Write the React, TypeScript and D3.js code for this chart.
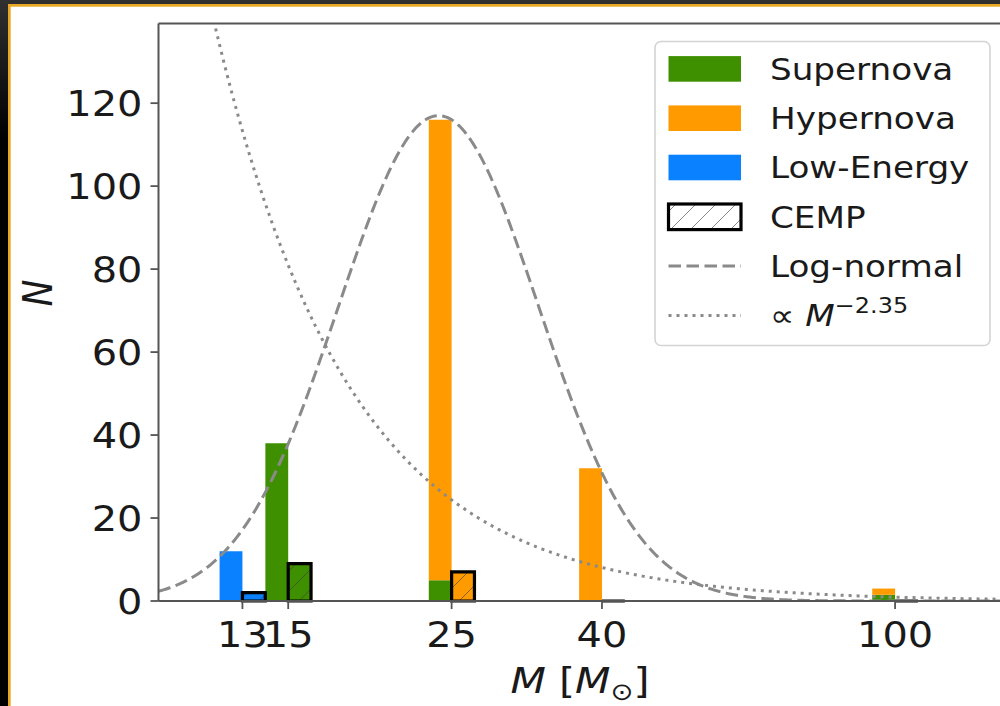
import React from 'react';
import * as d3 from 'd3';

// Progenitor masses (solar masses) and the number of stars per explosion type
const masses = [13, 15, 25, 40, 100];
const massTickLabels = ['13', '15', '25', '40', '100'];
const supernova = [0, 38, 5, 0, 1.5];
const hypernova = [0, 0, 111, 32, 1.5];
const lowEnergy = [12, 0, 0, 0, 0];
// Carbon-enhanced metal-poor subset, per explosion type
const cempSupernova = [0, 9, 0, 0, 0];
const cempHypernova = [0, 0, 7, 0, 0];
const cempLowEnergy = [2, 0, 0, 0, 0];

const yTicks = [0, 20, 40, 60, 80, 100, 120];

// Reference mass functions
const logNormalPeak = 117;
const logNormalMode = 24;
const logNormalSigma = 0.313;
const salpeterNorm = 47000;
const salpeterSlope = -2.35;

const W = 1000;
const H = 706;
const plot = { left: 158.5, right: 1005, top: 23.5, bottom: 601 };

const xScale = d3.scaleLog().domain([10, 141]).range([plot.left, plot.right]);
const yScale = d3.scaleLinear().domain([0, 139.2]).range([plot.bottom, plot.top]);

const BAR_STEP = 1.074;
const FONT = "'DejaVu Sans', sans-serif";
const SX = 1.14;

const COLORS = { sn: '#3e9000', hn: '#ff9a00', le: '#0a82ff' };
const CURVE_GREY = '#8a8a8a';

function rectPath(x0: number, x1: number, y0: number, y1: number) {
  return `M${x0},${y0}L${x1},${y0}L${x1},${y1}L${x0},${y1}Z`;
}

function stackSegments(values: number[][], i: number) {
  let acc = 0;
  return values.map((v) => {
    const seg = { lo: acc, hi: acc + v[i] };
    acc += v[i];
    return seg;
  });
}

function Txt(props: {
  x: number; y: number; size: number; anchor?: string; italic?: boolean; children: React.ReactNode;
}) {
  const { x, y, size, anchor = 'start', italic, children } = props;
  return (
    <text
      transform={`translate(${x},${y}) scale(${SX},1)`}
      fontFamily={FONT}
      fontSize={size}
      textAnchor={anchor}
      fontStyle={italic ? 'italic' : 'normal'}
      fill="#1a1a1a"
    >
      {children}
    </text>
  );
}

export default function App() {
  const y0 = yScale(0);
  const typeValues = [supernova, hypernova, lowEnergy];
  const cempValues = [cempSupernova, cempHypernova, cempLowEnergy];
  const fills = [COLORS.sn, COLORS.hn, COLORS.le];

  const samples = d3.range(0, 601).map((k) => {
    const lo = Math.log10(10), hi = Math.log10(141);
    return Math.pow(10, lo + ((hi - lo) * k) / 600);
  });
  const line = d3
    .line<[number, number]>()
    .x((d) => xScale(d[0]))
    .y((d) => yScale(d[1]));
  const logNormal = samples.map((m) => [
    m,
    logNormalPeak * Math.exp(-Math.pow(Math.log(m / logNormalMode), 2) / (2 * logNormalSigma * logNormalSigma)),
  ]) as [number, number][];
  const salpeter = samples.map((m) => [m, salpeterNorm * Math.pow(m, salpeterSlope)]) as [number, number][];

  // legend layout
  const lg = { x: 655, y: 41.5, w: 335, h: 304 };
  const rowY = (i: number) => 68.9 + i * 49.3;
  const hx0 = 668.5, hx1 = 741, textX = 770, legendSize = 30;
  const legendPatches = [
    { label: 'Supernova', fill: COLORS.sn },
    { label: 'Hypernova', fill: COLORS.hn },
    { label: 'Low-Energy', fill: COLORS.le },
  ];

  return (
    <svg
      width={W}
      height={H}
      style={{ position: 'fixed', left: 0, top: 0, display: 'block' }}
    >
      <defs>
        <linearGradient id="frameBg" x1="0" y1="0" x2="0" y2="140" gradientUnits="userSpaceOnUse">
          <stop offset="0" stopColor="#303030" />
          <stop offset="1" stopColor="#000000" />
        </linearGradient>
        <pattern id="hatch" patternUnits="userSpaceOnUse" width="20" height="20">
          <path d="M0,20L20,0M-5,5L5,-5M15,25L25,15" stroke="#3a3a3a" strokeOpacity="0.6" strokeWidth="1" />
        </pattern>
        <clipPath id="plotClip">
          <rect x={plot.left} y={plot.top} width={plot.right - plot.left} height={plot.bottom - plot.top} />
        </clipPath>
      </defs>

      {/* frame */}
      <rect x={0} y={0} width={W} height={H} fill="url(#frameBg)" />
      <rect x={8} y={4} width={W - 8} height={H - 4} fill="#e9a823" />
      <rect x={10.7} y={6.7} width={W - 10.7} height={H - 6.7} fill="#ffffff" />

      {/* explosion-type bars, left of each mass */}
      {masses.map((m, i) => {
        const xa = xScale(m / BAR_STEP), xb = xScale(m);
        const segs = stackSegments(typeValues, i);
        return (
          <g key={`t${m}`}>
            {segs.map((s, k) =>
              s.hi > s.lo ? (
                <path key={k} d={rectPath(xa, xb, yScale(s.lo), yScale(s.hi))} fill={fills[k]} />
              ) : null
            )}
          </g>
        );
      })}

      {/* CEMP bars, right of each mass */}
      {masses.map((m, i) => {
        const xa = xScale(m), xb = xScale(m * BAR_STEP);
        const segs = stackSegments(cempValues, i);
        const total = segs[segs.length - 1].hi;
        return (
          <g key={`c${m}`}>
            {segs.map((s, k) =>
              s.hi > s.lo ? (
                <path key={k} d={rectPath(xa, xb, yScale(s.lo), yScale(s.hi))} fill={fills[k]} />
              ) : null
            )}
            {total > 0 ? <path d={rectPath(xa, xb, y0, yScale(total))} fill="url(#hatch)" /> : null}
            <path d={rectPath(xa, xb, y0, yScale(total))} fill="none" stroke="#000" strokeWidth={3.2} />
          </g>
        );
      })}

      {/* mass functions */}
      <g clipPath="url(#plotClip)">
        <path d={line(logNormal) || ''} fill="none" stroke={CURVE_GREY} strokeWidth={3} strokeDasharray="12.5 5.5" />
        <path d={line(salpeter) || ''} fill="none" stroke={CURVE_GREY} strokeWidth={3} strokeDasharray="3 5" />
      </g>

      {/* spines */}
      <line x1={plot.left} x2={plot.left} y1={plot.top} y2={plot.bottom} stroke="#555" strokeWidth={2} />
      <line x1={plot.left} x2={W} y1={plot.bottom} y2={plot.bottom} stroke="#555" strokeWidth={2} />
      <line x1={plot.left} x2={W} y1={plot.top} y2={plot.top} stroke="#555" strokeWidth={2} />

      {/* y axis */}
      {yTicks.map((t) => (
        <g key={`y${t}`}>
          <line x1={plot.left - 8} x2={plot.left} y1={yScale(t)} y2={yScale(t)} stroke="#555" strokeWidth={1.8} />
          <Txt x={142.5} y={yScale(t) + 12.7} size={35} anchor="end">
            {t}
          </Txt>
        </g>
      ))}

      {/* x axis */}
      {masses.map((m, i) => (
        <g key={`x${m}`}>
          <line x1={xScale(m)} x2={xScale(m)} y1={plot.bottom} y2={plot.bottom + 8} stroke="#555" strokeWidth={1.8} />
          <Txt x={xScale(m)} y={647} size={35} anchor="middle">
            {massTickLabels[i]}
          </Txt>
        </g>
      ))}

      {/* axis titles */}
      <Txt x={580} y={693} size={36} anchor="middle">
        <tspan fontStyle="italic">M</tspan>
        <tspan> [</tspan>
        <tspan fontStyle="italic">M</tspan>
        <tspan fontSize={24} dy={7}>⊙</tspan>
        <tspan dy={-7}>]</tspan>
      </Txt>
      <text
        transform={`translate(52,293) rotate(-90) scale(1,${SX})`}
        fontFamily={FONT}
        fontSize={36}
        fontStyle="italic"
        textAnchor="middle"
        fill="#1a1a1a"
      >
        N
      </text>

      {/* legend */}
      <rect x={lg.x} y={lg.y} width={lg.w} height={lg.h} rx={6} fill="#ffffff" fillOpacity={0.85} stroke="#d4d4d4" strokeWidth={1.6} />
      {legendPatches.map((p, i) => (
        <g key={p.label}>
          <rect x={hx0} y={rowY(i) - 12.8} width={hx1 - hx0} height={25.6} fill={p.fill} />
          <Txt x={textX} y={rowY(i) + 10.9} size={legendSize}>
            {p.label}
          </Txt>
        </g>
      ))}
      <rect x={hx0} y={rowY(3) - 12.8} width={hx1 - hx0} height={25.6} fill="url(#hatch)" stroke="#000" strokeWidth={3.2} />
      <Txt x={textX} y={rowY(3) + 10.9} size={legendSize}>
        CEMP
      </Txt>
      <line x1={hx0} x2={hx1} y1={rowY(4)} y2={rowY(4)} stroke={CURVE_GREY} strokeWidth={3} strokeDasharray="12.5 5.5" />
      <Txt x={textX} y={rowY(4) + 10.9} size={legendSize}>
        Log-normal
      </Txt>
      <line x1={hx0} x2={hx1} y1={rowY(5)} y2={rowY(5)} stroke={CURVE_GREY} strokeWidth={3} strokeDasharray="3 5" />
      <Txt x={textX} y={rowY(5) + 10.9} size={legendSize}>
        <tspan> ∝ </tspan>
        <tspan fontStyle="italic">M</tspan>
        <tspan fontSize={21} dy={-13}>−2.35</tspan>
      </Txt>
    </svg>
  );
}
